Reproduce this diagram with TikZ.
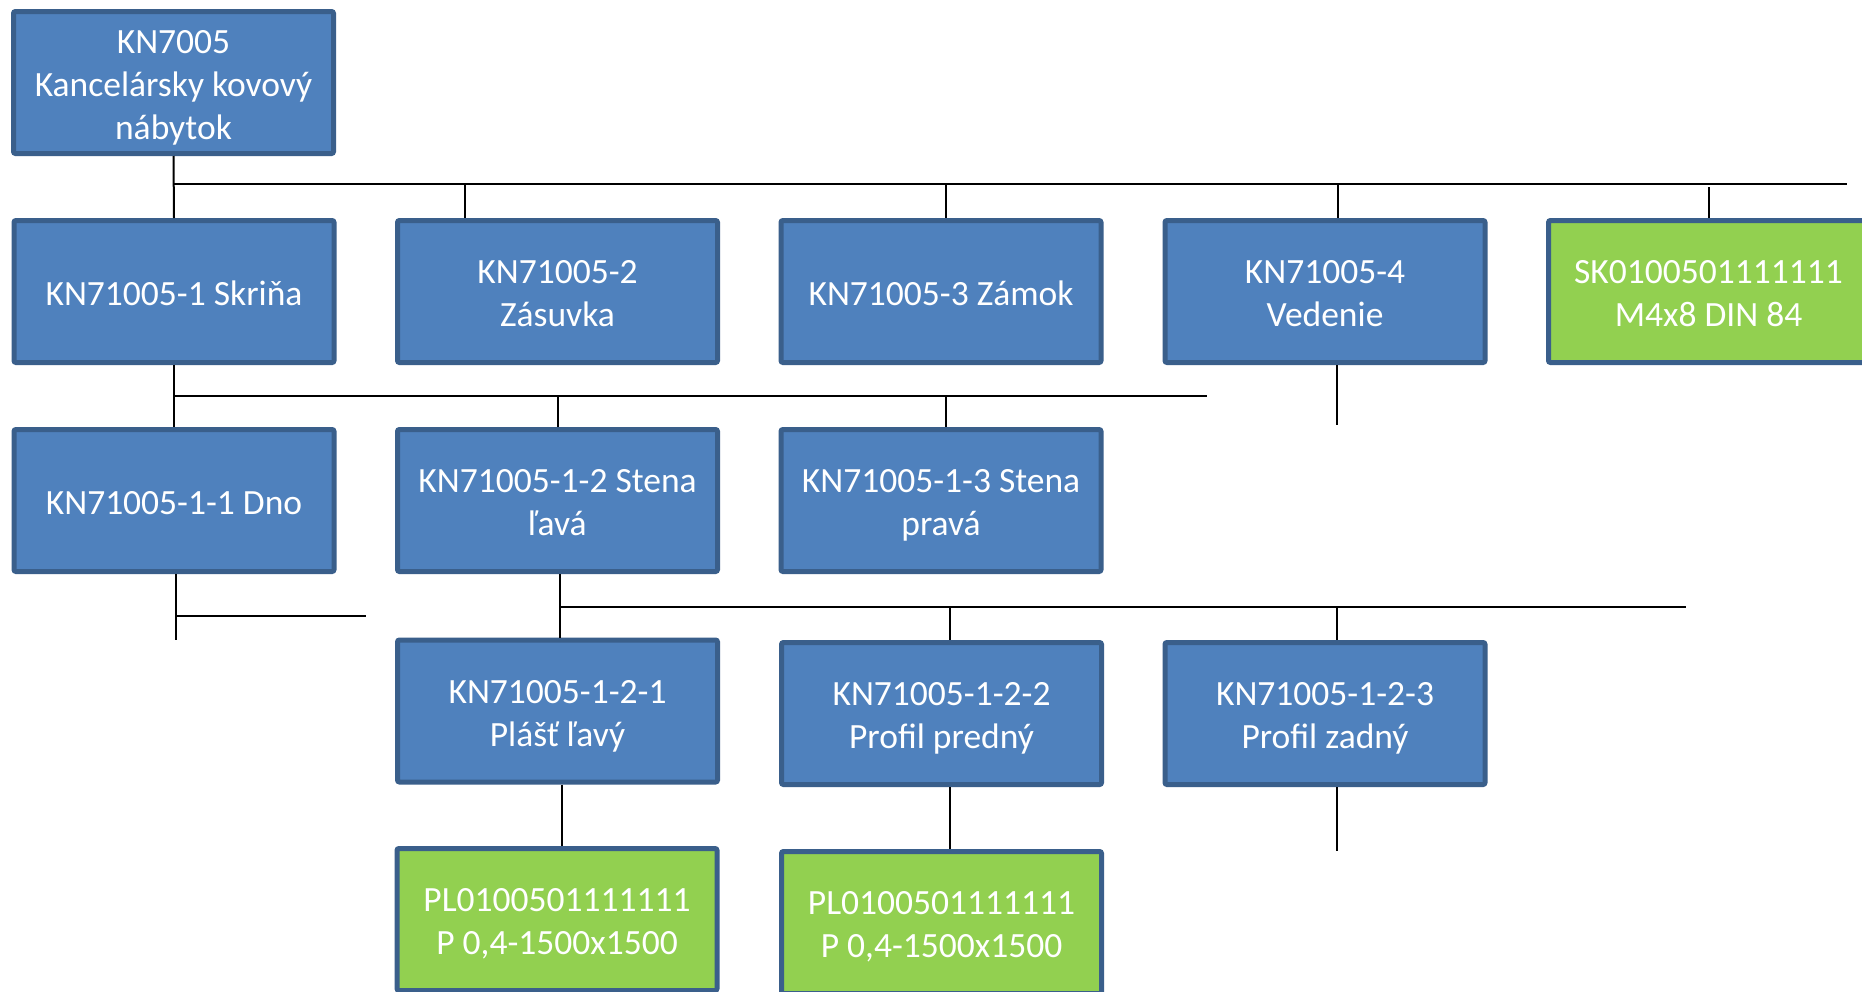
\documentclass[tikz,border=0pt]{standalone}
\usepackage{fontspec}
\setmainfont{Carlito}
\definecolor{boxblue}{HTML}{4F81BD}
\definecolor{boxedge}{HTML}{3A5F8B}
\definecolor{boxgreen}{HTML}{92D050}
\newcommand\boxtext[1]{\raisebox{-5pt}[\height][\depth]{\begin{tabular}{@{}c@{}}#1\end{tabular}}}
\begin{document}
\begin{tikzpicture}[x=1pt,y=-1pt,
  part/.style={draw=boxedge, line width=5pt, fill=boxblue, rounded corners=2pt,
    minimum width=320pt, minimum height=142pt, inner sep=0pt,
    text=white, font=\fontsize{35.5}{43}\selectfont},
  buy/.style={part, fill=boxgreen},
  conn/.style={draw=black, line width=2pt}]
\clip (0,0) rectangle (1862,991);
\fill[white] (0,0) rectangle (1862,991);
% row 1
\node[part] (root) at (173.5,82.5) {\boxtext{KN7005\\Kancelársky kovový\\nábytok}};
% row 2
\node[part] (skr) at (174,291.5) {\boxtext{KN71005-1 Skriňa}};
\node[part] (zas) at (557.5,291.5) {\boxtext{KN71005-2\\Zásuvka}};
\node[part] (zam) at (941,291.5) {\boxtext{KN71005-3 Zámok}};
\node[part] (ved) at (1325,291.5) {\boxtext{KN71005-4\\Vedenie}};
\node[buy]  (skr5) at (1708.5,291.5) {\boxtext{SK0100501111111\\M4x8 DIN 84}};
% row 3
\node[part] (dno) at (174,500.5) {\boxtext{KN71005-1-1 Dno}};
\node[part] (lav) at (557.5,500.5) {\boxtext{KN71005-1-2 Stena\\ľavá}};
\node[part] (prav) at (941,500.5) {\boxtext{KN71005-1-3 Stena\\pravá}};
% row 4
\node[part] (pl1) at (557.5,711) {\boxtext{KN71005-1-2-1\\Plášť ľavý}};
\node[part] (pp2) at (941.5,713.5) {\boxtext{KN71005-1-2-2\\Profil predný}};
\node[part] (pz3) at (1325,713.5) {\boxtext{KN71005-1-2-3\\Profil zadný}};
% row 5
\node[buy] (g1) at (557,919.5) {\boxtext{PL0100501111111\\P 0,4-1500x1500}};
\node[buy] (g2) at (941.5,922.5) {\boxtext{PL0100501111111\\P 0,4-1500x1500}};
% bus 1
\coordinate (b1s) at (173.5,184);
\coordinate (b1e) at (1847,184);
\coordinate (d2) at (465,184);
\coordinate (d3) at (946,184);
\coordinate (d4) at (1338,184);
\coordinate (d5) at (1708.5,187);
\draw[conn] (root.south) -- (skr.north);
\draw[conn] (b1s) -- (b1e);
\draw[conn] (d2) -- (d2 |- zas.north);
\draw[conn] (d3) -- (d3 |- zam.north);
\draw[conn] (d4) -- (d4 |- ved.north);
\draw[conn] (d5) -- (skr5.north);
\coordinate (vend) at (1337,425);
\draw[conn] (vend |- ved.south) -- (vend);
% bus 2
\coordinate (b2s) at (174,396);
\coordinate (b2e) at (1207,396);
\coordinate (e2) at (557.5,396);
\coordinate (e3) at (946,396);
\draw[conn] (skr.south) -- (dno.north);
\draw[conn] (b2s) -- (b2e);
\draw[conn] (e2) -- (lav.north);
\draw[conn] (e3) -- (e3 |- prav.north);
% below Dno
\coordinate (dn1) at (176,640);
\coordinate (dn2) at (176,616);
\coordinate (dn3) at (366,616);
\draw[conn] (dn1 |- dno.south) -- (dn1);
\draw[conn] (dn2) -- (dn3);
% bus 3
\coordinate (b3s) at (560,607);
\coordinate (b3e) at (1686,607);
\coordinate (f2) at (950,607);
\coordinate (f3) at (1337,607);
\draw[conn] (b3s |- lav.south) -- (b3s |- pl1.north);
\draw[conn] (b3s) -- (b3e);
\draw[conn] (f2) -- (f2 |- pp2.north);
\draw[conn] (f3) -- (f3 |- pz3.north);
% row 4 to 5
\coordinate (h1) at (562,0);
\coordinate (h2) at (950,0);
\coordinate (h3) at (1337,851);
\draw[conn] (h1 |- pl1.south) -- (h1 |- g1.north);
\draw[conn] (h2 |- pp2.south) -- (h2 |- g2.north);
\draw[conn] (h3 |- pz3.south) -- (h3);
\end{tikzpicture}
\end{document}
